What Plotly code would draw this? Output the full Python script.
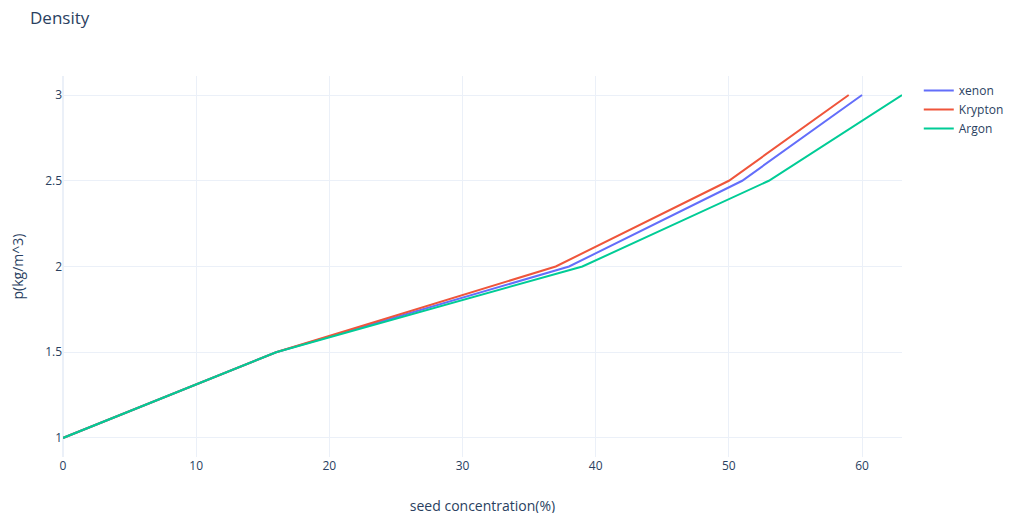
import plotly.graph_objects as go

xenon_x = [0, 16, 38, 51, 60]
xenon_y = [1, 1.5, 2, 2.5, 3]
krypton_x = [0, 16, 37, 50, 59]
krypton_y = [1, 1.5, 2, 2.5, 3]
argon_x = [0, 16, 39, 53, 63]
argon_y = [1, 1.5, 2, 2.5, 3]

fig = go.Figure()
fig.add_trace(go.Scatter(x=xenon_x, y=xenon_y, mode="lines", name="xenon"))
fig.add_trace(go.Scatter(x=krypton_x, y=krypton_y, mode="lines", name="Krypton"))
fig.add_trace(go.Scatter(x=argon_x, y=argon_y, mode="lines", name="Argon"))

fig.update_layout(
    template="plotly_white",
    width=1013,
    height=513,
    title=dict(text="Density", x=22 / 1013, y=1 - 10 / 513, yanchor="middle"),
    xaxis=dict(title=dict(text="seed concentration(%)", standoff=28), automargin=False),
    yaxis=dict(title=dict(text="p(kg/m^3)", standoff=18), automargin=False),
    margin=dict(l=55, r=112, t=68, b=64),
)
fig.write_html("out.html")
